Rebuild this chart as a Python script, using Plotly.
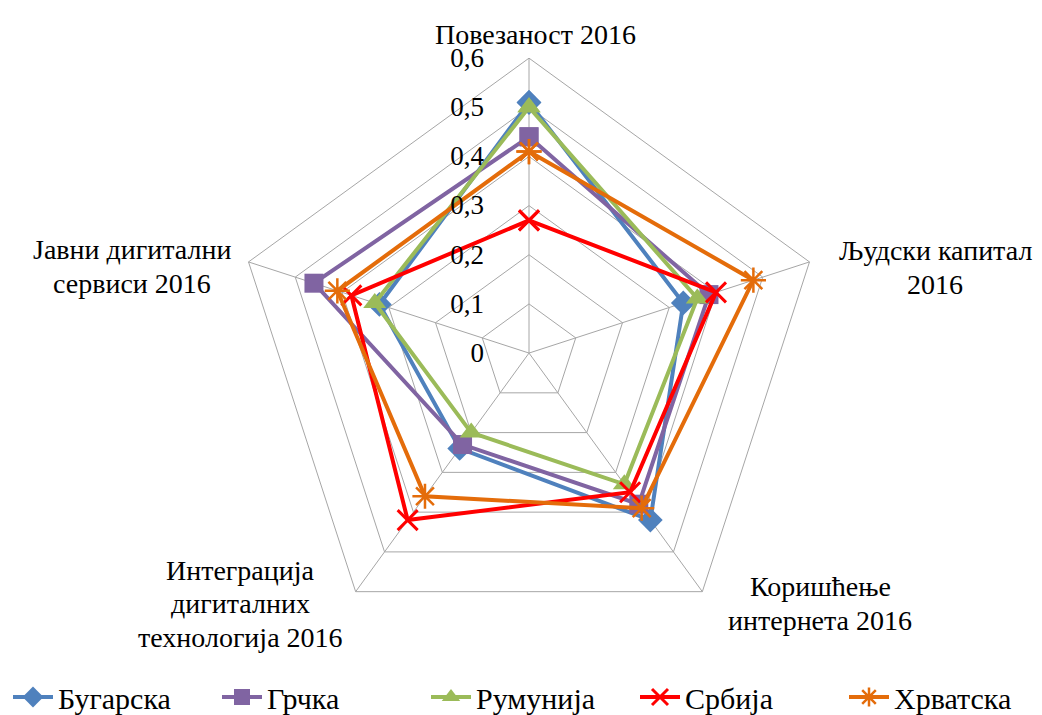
import plotly.graph_objects as go

categories = ["Повезаност 2016", "Људски капитал 2016", "Коришћење интернета 2016",
              "Интеграција дигиталних технологија 2016", "Јавни дигитални сервиси 2016"]
# category label lines as displayed around the chart
category_lines = [["Повезаност 2016"], ["Људски капитал", "2016"], ["Коришћење", "интернета 2016"],
                  ["Интеграција", "дигиталних", "технологија 2016"], ["Јавни дигитални", "сервиси 2016"]]

bugarska = [0.51, 0.33, 0.42, 0.24, 0.32]
grcka = [0.44, 0.385, 0.38, 0.23, 0.46]
rumunija = [0.50, 0.36, 0.33, 0.20, 0.33]
srbija = [0.27, 0.40, 0.35, 0.42, 0.38]
hrvatska = [0.41, 0.48, 0.39, 0.36, 0.41]

tick_vals = [0, 0.1, 0.2, 0.3, 0.4, 0.5, 0.6]
tick_text = ["0", "0,1", "0,2", "0,3", "0,4", "0,5", "0,6"]

series = [
    ("Бугарска", bugarska, "#4F81BD", "diamond", 19, 0),
    ("Грчка", grcka, "#8064A2", "square", 19, 0),
    ("Румунија", rumunija, "#9BBB59", "triangle-up", 20, 0),
    ("Србија", srbija, "#FF0000", "x-thin-open", 20, 3),
    ("Хрватска", hrvatska, "#E46C0A", "asterisk-open", 21, 2.5),
]

FONT = "Liberation Serif"
W, H = 1042, 715
cx, cy, R = 521, 347.5, 297
PAD = "\u00a0" * 6

fig = go.Figure()
for name, vals, color, sym, size, lw in series:
    fig.add_trace(go.Scatterpolar(
        r=vals + vals[:1],
        theta=categories + categories[:1],
        name=name,
        mode="lines+markers",
        line=dict(color=color, width=4),
        marker=dict(symbol=sym, size=size, color=color,
                    line=dict(color=color, width=lw)),
    ))

# (center x, first line y) in pixels, line spacing 34 px
label_pos = [(527, 27), (927, 244), (812, 583), (232, 566), (124, 243)]
LINE = 34
annotations = []
for lines, (px, py) in zip(category_lines, label_pos):
    for k, line in enumerate(lines):
        annotations.append(dict(
            text=line, x=px / W, y=1 - (py + k * LINE) / H, xref="paper", yref="paper",
            xanchor="center", yanchor="middle", align="center", showarrow=False,
            font=dict(family=FONT, size=28, color="black"),
        ))

fig.update_layout(
    width=W, height=H,
    margin=dict(l=0, r=0, t=0, b=0),
    paper_bgcolor="white",
    font=dict(family=FONT, size=28, color="black"),
    showlegend=True,
    legend=dict(orientation="h", x=0.003, xanchor="left", y=1 - 694 / H, yanchor="middle",
                font=dict(family=FONT, size=30, color="black"),
                entrywidth=154, entrywidthmode="pixels", itemwidth=40),
    polar=dict(
        domain=dict(x=[(cx - R) / W, (cx + R) / W], y=[(H - cy - R) / H, (H - cy + R) / H]),
        bgcolor="white",
        gridshape="linear",
        angularaxis=dict(rotation=90, direction="clockwise", showline=True,
                         linecolor="#A6A6A6", linewidth=1, gridcolor="#A6A6A6", gridwidth=1,
                         showticklabels=False, ticks=""),
        radialaxis=dict(range=[0, 0.6], angle=90, side="counterclockwise", tickangle=90,
                        tickvals=tick_vals, ticktext=[t + PAD for t in tick_text], showline=False,
                        gridcolor="#A6A6A6", gridwidth=1, ticks="",
                        tickfont=dict(family=FONT, size=27, color="black")),
    ),
    annotations=annotations,
)

fig.write_html("out.html")
